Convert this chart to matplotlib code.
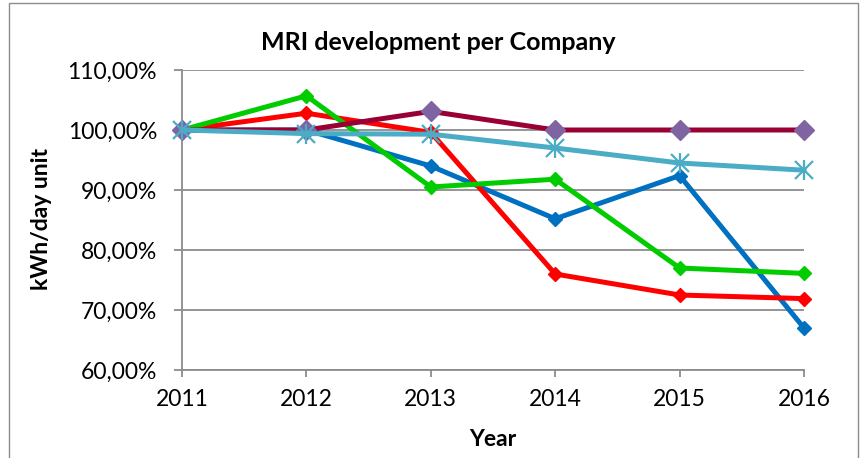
import matplotlib.pyplot as plt
from matplotlib.ticker import FuncFormatter

plt.rcParams['font.family'] = ['Lato', 'DejaVu Sans']

# data (percent)
years = [2011, 2012, 2013, 2014, 2015, 2016]
company_blue = [100.0, 100.0, 94.0, 85.2, 92.4, 67.0]
company_red = [100.0, 102.8, 99.6, 76.0, 72.5, 71.9]
company_green = [100.0, 105.7, 90.5, 91.8, 77.0, 76.1]
company_wine = [100.0, 100.0, 103.1, 100.0, 100.0, 100.0]
company_cyan = [100.0, 99.4, 99.3, 97.0, 94.5, 93.3]
y_ticks = [60, 70, 80, 90, 100, 110]

fig = plt.figure(figsize=(8.61, 4.58), dpi=100)
# chart border
fig.patches.append(plt.Rectangle((9 / 861, -0.01), 849 / 861, 1 - 3 / 458 + 0.01,
                                 transform=fig.transFigure, fill=False,
                                 edgecolor='#8c8c8c', linewidth=1))
ax = fig.add_axes([182 / 861, 88 / 458, 622 / 861, 300 / 458])

lw = 3.6
kw = dict(clip_on=False)
ax.plot(years, company_blue, color='#0070C0', lw=lw, marker='D', ms=7, zorder=3, **kw)
ax.plot(years, company_red, color='#FF0000', lw=lw, marker='D', ms=7, zorder=4, **kw)
ax.plot(years, company_green, color='#00CC00', lw=lw, marker='D', ms=7, zorder=5, **kw)
ax.plot(years, company_wine, color='#990033', lw=lw, zorder=6, **kw)
ax.plot(years, company_wine, ls='none', marker='D', ms=10, color='#8064A2', zorder=6, **kw)
ax.plot(years, company_cyan, color='#4BACC6', lw=lw, zorder=7, **kw)
ax.plot(years, company_cyan, ls='none', marker='x', ms=13, mew=1.6, color='#4BACC6', zorder=7, **kw)
ax.plot(years, company_cyan, ls='none', marker='|', ms=15, mew=1.6, color='#4BACC6', zorder=7, **kw)

ax.set_xlim(2011, 2016)
ax.set_ylim(60, 110)
ax.set_xticks(years)
ax.set_yticks(y_ticks)
ax.yaxis.set_major_formatter(FuncFormatter(lambda v, p: f'{v:.2f}%'.replace('.', ',')))
ax.grid(axis='y', color='#8c8c8c', lw=1.3)
ax.set_axisbelow(True)
for s in ['top', 'right']:
    ax.spines[s].set_visible(False)
for s in ['left', 'bottom']:
    ax.spines[s].set_color('#8c8c8c')
    ax.spines[s].set_linewidth(1.3)
ax.tick_params(axis='both', colors='#8c8c8c', width=1.3, labelsize=16.5,
               labelcolor='black')
ax.tick_params(axis='y', length=6, pad=12)
ax.tick_params(axis='x', length=5, pad=9)

fig.text(438 / 861, 1 - 42 / 458, 'MRI development per Company', fontsize=18,
         fontweight='bold', ha='center', va='center')
fig.text(493 / 861, 1 - 440 / 458, 'Year', fontsize=16.5, fontweight='bold',
         ha='center', va='center')
fig.text(42 / 861, 1 - 219 / 458, 'kWh/day unit', fontsize=16.5, fontweight='bold',
         ha='center', va='center', rotation=90)

fig.savefig('out.png', dpi=100)
